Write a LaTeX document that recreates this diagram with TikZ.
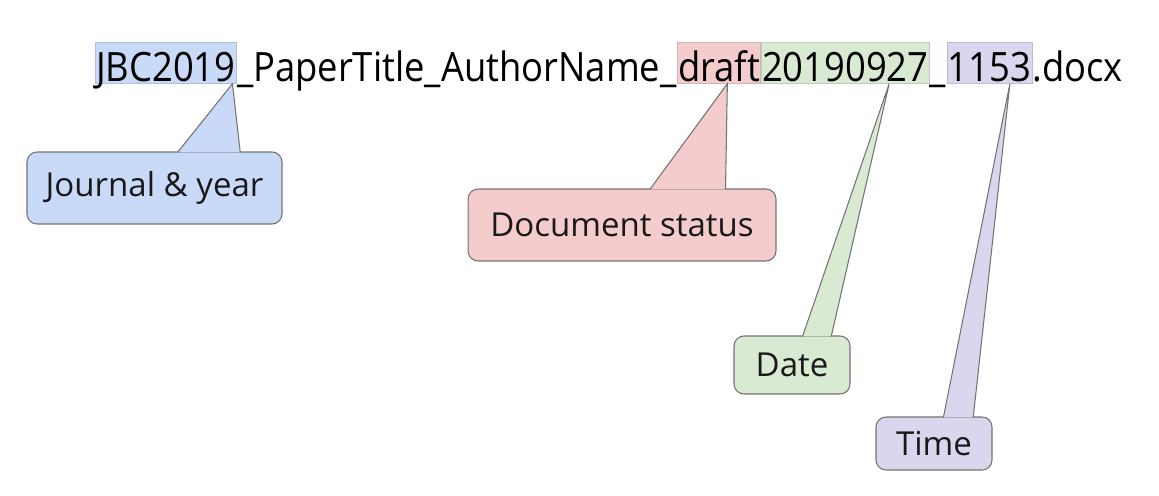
\documentclass[tikz,border=0pt]{standalone}
\usepackage{fontspec}
\setmainfont{Open Sans}
\newfontfamily\filefont[FakeStretch=0.9]{Open Sans}
\usepackage{tikz}
\usetikzlibrary{calc}

\definecolor{jblue}{HTML}{C9DAF8}
\definecolor{sred}{HTML}{F4CCCC}
\definecolor{dgreen}{HTML}{D9EAD3}
\definecolor{tpurple}{HTML}{D9D7EE}

\tikzset{
  part/.style = {inner xsep=0pt, inner ysep=0pt, text height=0.79cm, text depth=0.04cm,
                 anchor=base west, font=\filefont\fontsize{23}{26}\selectfont},
  mark part/.style = {part, inner xsep=0.5pt, draw={#1!88!black}, line width=0.3pt, fill=#1},
  label box/.style = {draw=black!55, line width=0.6pt, rounded corners=0.2cm, fill=#1,
                      inner sep=0pt, text=black!90, font=\fontsize{18.8}{22}\selectfont},
  pointer/.style = {draw=black!55, line width=0.6pt, fill=#1, line join=miter}
}

\begin{document}
\begin{tikzpicture}[x=0.02cm, y=-0.02cm]
\useasboundingbox (0,0) rectangle (1159,496);

% the file name
\node[mark part = jblue] (jbc) at (95,81.5) {JBC2019};
\node[part] (title) at (jbc.base east) {\_PaperTitle\_AuthorName\_};
\node[mark part = sred] (draft) at (title.base east) {draft};
\node[mark part = dgreen] (date) at (draft.base east) {20190927};
\node[part] (sep) at (date.base east) {\_};
\node[mark part = tpurple] (time) at (sep.base east) {1153};
\node[part] (ext) at (time.base east) {.docx};

% the labels
\node[label box = jblue, minimum width=5.1cm, minimum height=1.44cm] (journal) at (154.5,188) {Journal \& year};
\node[label box = sred, minimum width=6.16cm, minimum height=1.44cm] (status) at (622,225) {Document status};
\node[label box = dgreen, minimum width=2.32cm, minimum height=1.16cm] (datelab) at (792,365) {Date};
\node[label box = tpurple, minimum width=2.32cm, minimum height=1.06cm] (timelab) at (934,443.5) {Time};

% pointers from the labels up to the parts
\filldraw[pointer = jblue] ($(journal.north west)!0.59!(journal.north east)+(0,1)$)
  -- ($(jbc.south west)!0.97!(jbc.south east)$)
  -- ($(journal.north west)!0.835!(journal.north east)+(0,1)$);
\filldraw[pointer = sred] ($(status.north west)!0.59!(status.north east)+(0,1)$)
  -- ($(draft.south west)!0.6!(draft.south east)$)
  -- ($(status.north west)!0.835!(status.north east)+(0,1)$);
\filldraw[pointer = dgreen] ($(datelab.north west)!0.59!(datelab.north east)+(0,1)$)
  -- ($(date.south west)!0.76!(date.south east)$)
  -- ($(datelab.north west)!0.835!(datelab.north east)+(0,1)$);
\filldraw[pointer = tpurple] ($(timelab.north west)!0.58!(timelab.north east)+(0,1)$)
  -- ($(time.south west)!0.74!(time.south east)$)
  -- ($(timelab.north west)!0.835!(timelab.north east)+(0,1)$);
\end{tikzpicture}
\end{document}
